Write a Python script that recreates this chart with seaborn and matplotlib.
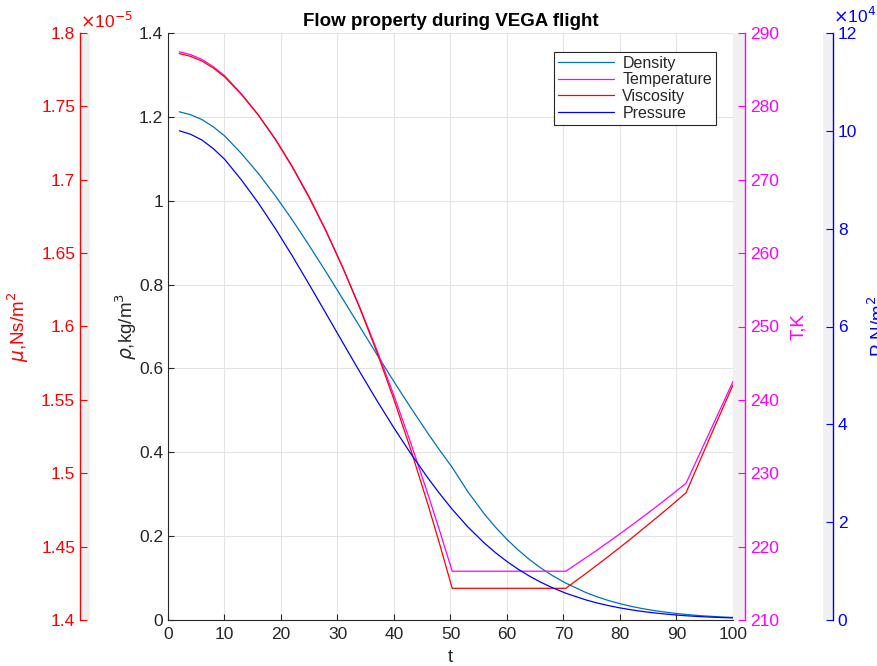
import matplotlib
matplotlib.use('Agg')
import matplotlib.pyplot as plt
from matplotlib.ticker import FuncFormatter
import numpy as np
import pandas as pd
import seaborn as sns

# flow property samples
t = [2, 4, 6, 8, 10, 13, 16, 19, 22, 25, 28, 31, 34, 37, 40, 43, 46, 48, 50.3,
     53, 56, 58, 60, 62, 64, 66, 68, 70.4, 74, 76, 78, 80, 82, 84, 86, 88, 90, 91.7,
     94, 96, 98, 100]
density = [1.2121, 1.2051, 1.1936, 1.1764, 1.1549, 1.1125, 1.0649, 1.0118, 0.9542,
           0.8929, 0.8294, 0.7642, 0.6984, 0.6328, 0.5683, 0.5056, 0.4452, 0.4066,
           0.3639, 0.3073, 0.2527, 0.2208, 0.1922, 0.1667, 0.1440, 0.1239, 0.1063,
           0.0880, 0.0652, 0.0551, 0.0463, 0.0389, 0.0325, 0.0271, 0.0226, 0.0188,
           0.0156, 0.0132, 0.0106, 0.0088, 0.0073, 0.0061]
temperature = [287.44, 287.05, 286.40, 285.42, 284.19, 281.70, 278.82, 275.49, 271.72,
               267.52, 262.92, 257.91, 252.51, 246.73, 240.57, 234.05, 227.16, 222.36,
               216.65, 216.65, 216.65, 216.65, 216.65, 216.65, 216.65, 216.65, 216.65,
               216.65, 218.51, 219.56, 220.65, 221.75, 222.88, 224.03, 225.19, 226.38,
               227.60, 228.65, 232.49, 235.83, 239.16, 242.50]
viscosity = [1.7860e-5, 1.7841e-5, 1.7809e-5, 1.7762e-5, 1.7702e-5, 1.7581e-5, 1.7440e-5,
             1.7277e-5, 1.7090e-5, 1.6881e-5, 1.6650e-5, 1.6396e-5, 1.6120e-5, 1.5822e-5,
             1.5501e-5, 1.5157e-5, 1.4788e-5, 1.4528e-5, 1.4216e-5, 1.4216e-5, 1.4216e-5,
             1.4216e-5, 1.4216e-5, 1.4216e-5, 1.4216e-5, 1.4216e-5, 1.4216e-5, 1.4216e-5,
             1.4318e-5, 1.4376e-5, 1.4435e-5, 1.4495e-5, 1.4556e-5, 1.4619e-5, 1.4682e-5,
             1.4746e-5, 1.4811e-5, 1.4868e-5, 1.5073e-5, 1.5251e-5, 1.5427e-5, 1.5602e-5]
pressure = [100011, 99300, 98123, 96380, 94209, 89958, 85229, 80013, 74423, 68572, 62596,
            56578, 50623, 44822, 39244, 33968, 29031, 25948, 22632, 19112, 15713, 13731,
            11950, 10364, 8953, 7706, 6613, 5475, 4092, 3469, 2932, 2473, 2079, 1743,
            1461, 1221, 1016, 868, 708, 595, 502, 424]

df = pd.DataFrame({'t': t, 'Density': density, 'Temperature': temperature,
                   'Viscosity': viscosity, 'Pressure': pressure})

sns.set_theme(style='ticks')
plt.rcParams['font.family'] = ['Liberation Sans', 'DejaVu Sans']
plt.rcParams['mathtext.fontset'] = 'dejavusans'

DARK = '#262626'
C_RHO, C_T, C_MU, C_P = '#0072BD', '#FF00FF', '#FF0000', '#0000FF'
TICK_FS, LAB_FS = 12.5, 13.5

W, H = 878, 666
fig = plt.figure(figsize=(W / 100, H / 100), dpi=100)
bot, hgt = (H - 620) / H, 587 / H
ax = fig.add_axes([168 / W, bot, 565 / W, hgt])

# main axis (density)
sns.lineplot(data=df, x='t', y='Density', ax=ax, color=C_RHO, lw=0.9, label='Density')
ax.set_xlim(0, 100)
ax.set_ylim(0, 1.4)
ax.set_xticks(np.arange(0, 101, 10))
ax.set_yticks(np.arange(0, 1.41, 0.2))
ax.yaxis.set_major_formatter(FuncFormatter(lambda v, _: f'{v:g}'))
ax.grid(True, color='#e3e3e3', lw=0.8)
ax.set_axisbelow(True)
for s in ['top', 'right']:
    ax.spines[s].set_visible(False)
for s in ['left', 'bottom']:
    ax.spines[s].set_color(DARK)
    ax.spines[s].set_linewidth(0.8)
ax.tick_params(direction='in', length=4, width=0.8, colors=DARK, labelsize=TICK_FS)
ax.tick_params(axis='x', pad=5)
ax.set_xlabel('t', fontsize=LAB_FS, color=DARK, labelpad=5)
ax.set_ylabel(r'$\rho$,kg/m$^3$', fontsize=LAB_FS, color=DARK, labelpad=0)
ax.set_title('Flow property during VEGA flight', fontsize=13.5, fontweight='bold',
             color='black', pad=5)

# overlaid invisible axes carrying the other three series
series = [('Temperature', C_T, (210, 290)),
          ('Viscosity', C_MU, (1.4e-5, 1.8e-5)),
          ('Pressure', C_P, (0, 12e4))]
handles, labels = ax.get_legend_handles_labels()
ax.get_legend().remove()
for name, col, lim in series:
    tw = ax.twinx()
    sns.lineplot(data=df, x='t', y=name, ax=tw, color=col, lw=0.9, label=name)
    tw.set_ylim(*lim)
    h, l = tw.get_legend_handles_labels()
    handles += h
    labels += l
    tw.get_legend().remove()
    tw.axis('off')

leg = ax.legend(handles, labels, loc='upper right', bbox_to_anchor=(0.970, 0.968),
                fontsize=11.5, frameon=True, fancybox=False, edgecolor=DARK,
                framealpha=1, handlelength=3.5, labelspacing=0.1, borderpad=0.25,
                handletextpad=0.5, borderaxespad=0)
leg.get_frame().set_linewidth(0.8)


def strip(x0, width, side, col, lim, ticks, fmt, label, pad):
    sa = fig.add_axes([x0 / W, bot, width / W, hgt], facecolor='#f0f0f0')
    sa.set_ylim(*lim)
    sa.set_xticks([])
    sa.set_yticks(ticks)
    sa.yaxis.set_major_formatter(FuncFormatter(fmt))
    for s in sa.spines.values():
        s.set_visible(False)
    sa.spines[side].set_visible(True)
    sa.spines[side].set_color(col)
    sa.spines[side].set_linewidth(1.0)
    if side == 'right':
        sa.yaxis.tick_right()
        sa.yaxis.set_label_position('right')
    sa.tick_params(axis='y', direction='in', length=5, width=0.8, colors=col,
                   labelsize=TICK_FS)
    sa.set_ylabel(label, color=col, fontsize=LAB_FS, labelpad=pad)
    return sa


mu_ax = strip(80, 10, 'left', C_MU, (1.4e-5, 1.8e-5), np.arange(1.4e-5, 1.8001e-5, 0.05e-5),
              lambda v, _: f'{v * 1e5:g}', r'$\mu$,Ns/m$^2$', 7)
mu_ax.text(0.0, 1.004, r'$\times$10$^{-5}$', transform=mu_ax.transAxes, ha='left',
           va='bottom', color=C_MU, fontsize=12.5)

T_ax = strip(733, 12, 'right', C_T, (210, 290), np.arange(210, 291, 10),
             lambda v, _: f'{v:g}', 'T,K', 8)

p_ax = strip(823, 10, 'right', C_P, (0, 12e4), np.arange(0, 12.01e4, 2e4),
             lambda v, _: f'{v / 1e4:g}', r'P,N/m$^2$', 6)
p_ax.text(1.0, 1.012, r'$\times$10$^{4}$', transform=p_ax.transAxes, ha='left',
          va='bottom', color=C_P, fontsize=12.5)

fig.savefig('out.png', dpi=100)
